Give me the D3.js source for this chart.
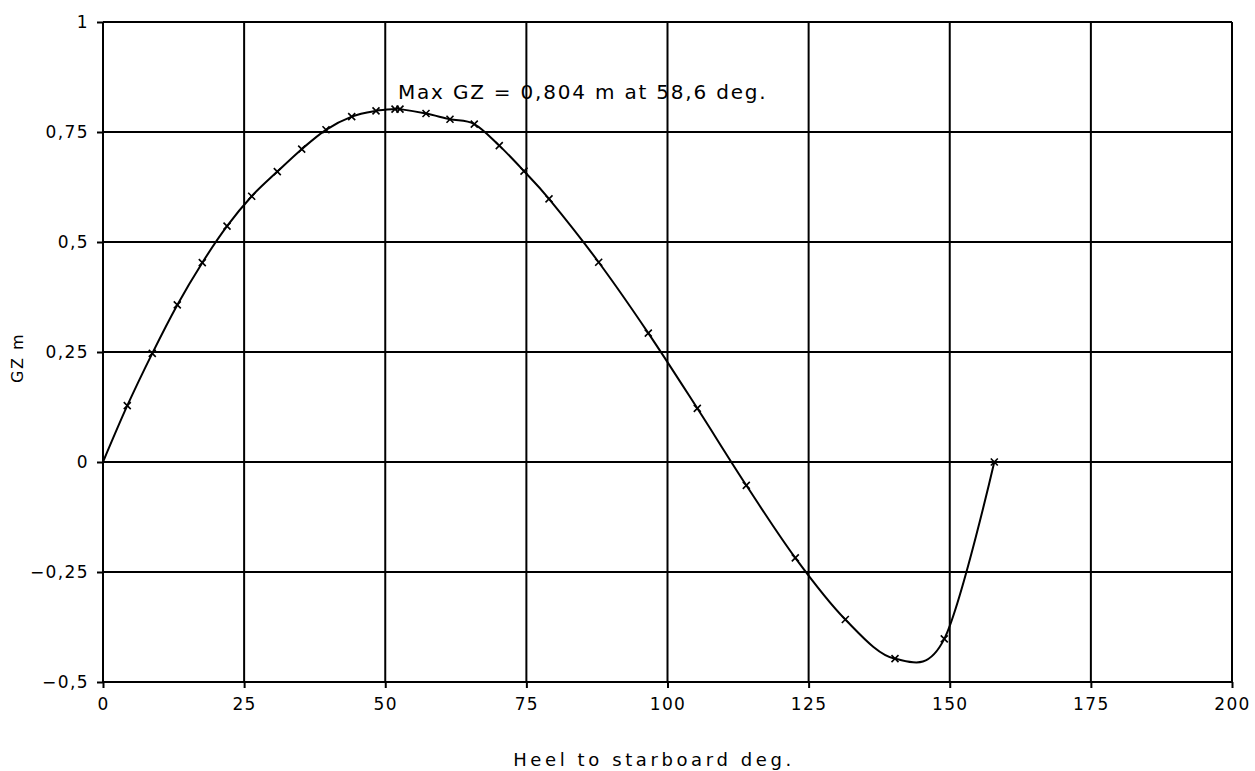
<!DOCTYPE html>
<html>
<head>
<meta charset="utf-8">
<script src="https://cdn.jsdelivr.net/npm/d3@7"></script>
<style>
  body { margin: 0; background: #fff; }
  svg text { font-family: "DejaVu Sans", sans-serif; fill: #000; }
</style>
</head>
<body>
<div id="chart"></div>
<script>
const heel = [4.3, 8.73, 13.16, 17.59, 21.97, 26.34, 30.88, 35.2, 39.5, 44.06, 48.36, 51.73, 52.61,
              57.22, 61.47, 65.77, 70.2, 74.58, 79.01, 87.81, 96.6, 105.28, 113.96, 122.64, 131.5,
              140.3, 149.03, 157.89];
const gz = [0.128, 0.247, 0.357, 0.453, 0.536, 0.604, 0.660, 0.711, 0.755, 0.785, 0.798, 0.802, 0.802,
            0.792, 0.779, 0.768, 0.719, 0.661, 0.598, 0.454, 0.293, 0.122, -0.053, -0.218, -0.358,
            -0.447, -0.402, 0.0];
const origin = [0, 0];
const xTicks = [0, 25, 50, 75, 100, 125, 150, 175, 200];
const yTicks = [-0.5, -0.25, 0, 0.25, 0.5, 0.75, 1];
const maxLabel = "Max GZ = 0,804 m at 58,6 deg.";
const xTitle = "Heel to starboard deg.";
const yTitle = "GZ m";

const W = 1255, H = 771;
const m = {left: 103, right: 23, top: 22, bottom: 89};

const loc = d3.formatLocale({decimal: ",", thousands: ".", grouping: [3], currency: ["", ""], minus: "\u2212"});
const fmt = loc.format("~g");

const svg = d3.select("#chart").append("svg")
  .attr("width", W).attr("height", H);

const x = d3.scaleLinear().domain([0, 200]).range([m.left, W - m.right]);
const y = d3.scaleLinear().domain([-0.5, 1]).range([H - m.bottom, m.top]);

// grid
const grid = svg.append("g").attr("stroke", "#000").attr("stroke-width", 2);
grid.selectAll("line.v").data(xTicks).enter().append("line")
  .attr("x1", d => x(d)).attr("x2", d => x(d))
  .attr("y1", y(1)).attr("y2", y(-0.5));
grid.selectAll("line.h").data(yTicks).enter().append("line")
  .attr("y1", d => y(d)).attr("y2", d => y(d))
  .attr("x1", x(0)).attr("x2", x(200));

// axes
const xAxis = svg.append("g")
  .attr("transform", "translate(0," + y(-0.5) + ")")
  .call(d3.axisBottom(x).tickValues(xTicks).tickFormat(fmt).tickSize(6).tickPadding(10));
const yAxis = svg.append("g")
  .attr("transform", "translate(" + x(0) + ",0)")
  .call(d3.axisLeft(y).tickValues(yTicks).tickFormat(fmt).tickSize(6).tickPadding(8));
[xAxis, yAxis].forEach(g => {
  g.select(".domain").remove();
  g.selectAll(".tick line").attr("stroke", "#000").attr("stroke-width", 2);
  g.selectAll(".tick text").attr("font-size", 17).attr("letter-spacing", 1.4)
    .attr("font-family", "DejaVu Sans").attr("fill", "#000");
});
yAxis.selectAll(".tick text").attr("dy", "0.3em");

// curve
const pts = [origin].concat(heel.map((h, i) => [h, gz[i]]));
const line = d3.line()
  .curve(d3.curveCatmullRom.alpha(0))
  .x(d => x(d[0])).y(d => y(d[1]));
svg.append("path").datum(pts)
  .attr("d", line)
  .attr("fill", "none").attr("stroke", "#000").attr("stroke-width", 2);

// markers
const s = 3.5;
svg.append("g").selectAll("path").data(heel.map((h, i) => [h, gz[i]])).enter().append("path")
  .attr("d", d => {
    const cx = x(d[0]), cy = y(d[1]);
    return "M" + (cx - s) + "," + (cy - s) + "L" + (cx + s) + "," + (cy + s) +
           "M" + (cx - s) + "," + (cy + s) + "L" + (cx + s) + "," + (cy - s);
  })
  .attr("stroke", "#000").attr("stroke-width", 1.6).attr("fill", "none");

// annotation
svg.append("text")
  .attr("x", 398).attr("y", 99)
  .attr("font-size", 20).attr("letter-spacing", 1.8)
  .text(maxLabel);

// titles
svg.append("text")
  .attr("x", 654).attr("y", 766)
  .attr("text-anchor", "middle")
  .attr("font-size", 18).attr("letter-spacing", 3.6)
  .text(xTitle);
svg.append("text")
  .attr("transform", "translate(23,358) rotate(-90)")
  .attr("text-anchor", "middle")
  .attr("font-size", 16).attr("letter-spacing", 1.5)
  .text(yTitle);
</script>
</body>
</html>
